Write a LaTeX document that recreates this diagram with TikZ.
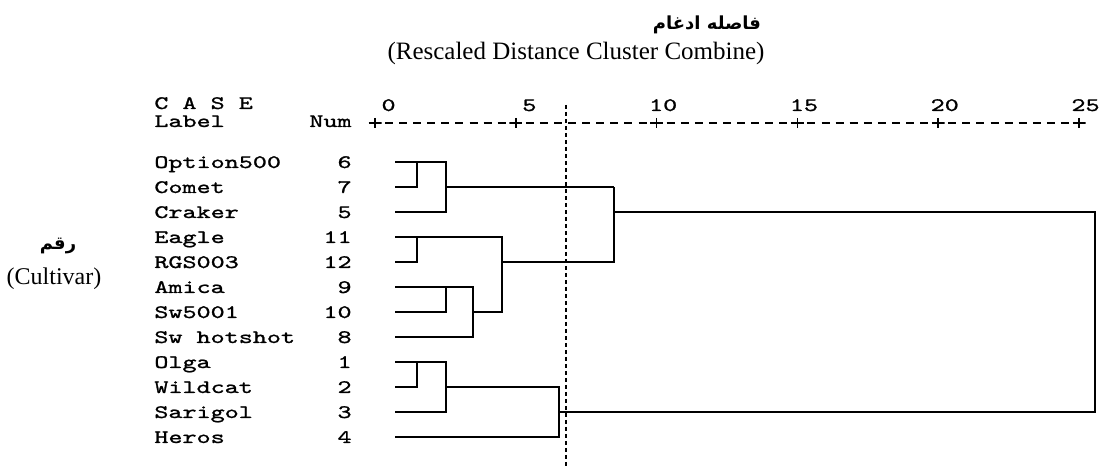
\documentclass[tikz,border=0pt]{standalone}
\usepackage{fontspec}
\setmainfont{Liberation Serif}
\newfontfamily\casefont{lmmono10-regular.otf}[FakeStretch=1.41, FakeBold=1.2]
\newfontfamily\farsifont[Script=Arabic]{DejaVu Sans}
\TeXXeTstate=1

\tikzset{
	casetext/.style={inner sep=0pt, font=\casefont\fontsize{9.5}{11}\selectfont},
	caselabel/.style={casetext, anchor=base west},
	casenum/.style={casetext, anchor=base east},
	scalenum/.style={casetext, anchor=base east},
	tickmark/.style={inner sep=0pt, minimum width=6.5pt, minimum height=5pt,
		path picture={\draw[line width=0.8pt]
			(path picture bounding box.west) -- (path picture bounding box.east)
			(path picture bounding box.north) -- (path picture bounding box.south);}},
	branch/.style={line width=0.85pt},
	cutline/.style={line width=1.25pt, dash pattern=on 2pt off 1.5pt},
	axisline/.style={line width=0.8pt, dash pattern=on 4pt off 3.04pt, dash phase=2pt},
	farsi/.style={inner sep=0pt, font=\farsifont\bfseries\fontsize{9}{11}\selectfont},
	caption/.style={inner sep=0pt, font=\fontsize{12}{14}\selectfont}
}

\begin{document}
\begin{tikzpicture}[x=0.5pt, y=-0.5pt]
		\useasboundingbox (0,0) rectangle (1108,469);

		% titles
		\node[farsi] (titlefa) at (707,25) {\beginR فاصله ادغام\endR};
		\node[caption, anchor=base, font=\fontsize{12.5}{14}\selectfont] (titleen) at (576,60) {(Rescaled Distance Cluster Combine)};
		\node[farsi] (cultfa) at (58,246) {\beginR رقم\endR};
		\node[caption, anchor=base] (culten) at (54,285) {(Cultivar)};

		% header
		\node[caselabel] (case) at (154,109) {C A S E};
		\node[caselabel] (label) at (154,127) {Label};
		\node[caselabel] (num) at (309,127) {Num};

		% scale
		\coordinate (t0) at (375,123);
		\coordinate (t5) at (1079,123);
		\draw[axisline] (t0) -- (t5);
		\node[tickmark] (p0) at (375,123) {};
		\node[tickmark] (p1) at (515.8,123) {};
		\node[tickmark] (p2) at (656.6,123) {};
		\node[tickmark] (p3) at (797.4,123) {};
		\node[tickmark] (p4) at (938.2,123) {};
		\node[tickmark] (p5) at (1079,123) {};
		\node[scalenum] (s0) at (396,111) {0};
		\node[scalenum] (s1) at (536.8,111) {5};
		\node[scalenum] (s2) at (677.6,111) {10};
		\node[scalenum] (s3) at (818.4,111) {15};
		\node[scalenum] (s4) at (959.2,111) {20};
		\node[scalenum] (s5) at (1100,111) {25};

		% cut
		\coordinate (cuttop) at (566,105);
		\coordinate (cutbot) at (566,469);
		\draw[cutline] (cuttop) -- (cutbot);

		% cases
		\node[caselabel] (lab6) at (154,168) {Option500};
		\node[casenum] (num6) at (352,168) {6};
		\coordinate (n6) at (395,162);
		\node[caselabel] (lab7) at (154,193) {Comet};
		\node[casenum] (num7) at (352,193) {7};
		\coordinate (n7) at (395,187);
		\node[caselabel] (lab5) at (154,218) {Craker};
		\node[casenum] (num5) at (352,218) {5};
		\coordinate (n5) at (395,212);
		\node[caselabel] (lab11) at (154,243) {Eagle};
		\node[casenum] (num11) at (352,243) {11};
		\coordinate (n11) at (395,237);
		\node[caselabel] (lab12) at (154,268) {RGS003};
		\node[casenum] (num12) at (352,268) {12};
		\coordinate (n12) at (395,262);
		\node[caselabel] (lab9) at (154,293) {Amica};
		\node[casenum] (num9) at (352,293) {9};
		\coordinate (n9) at (395,287);
		\node[caselabel] (lab10) at (154,318) {Sw5001};
		\node[casenum] (num10) at (352,318) {10};
		\coordinate (n10) at (395,312);
		\node[caselabel] (lab8) at (154,343) {Sw hotshot};
		\node[casenum] (num8) at (352,343) {8};
		\coordinate (n8) at (395,337);
		\node[caselabel] (lab1) at (154,368) {Olga};
		\node[casenum] (num1) at (352,368) {1};
		\coordinate (n1) at (395,362);
		\node[caselabel] (lab2) at (154,393) {Wildcat};
		\node[casenum] (num2) at (352,393) {2};
		\coordinate (n2) at (395,387);
		\node[caselabel] (lab3) at (154,418) {Sarigol};
		\node[casenum] (num3) at (352,418) {3};
		\coordinate (n3) at (395,412);
		\node[caselabel] (lab4) at (154,443) {Heros};
		\node[casenum] (num4) at (352,443) {4};
		\coordinate (n4) at (395,437);

		% merge levels
		\coordinate (xa) at (417,150);
		\coordinate (xb) at (446,150);
		\coordinate (xc) at (473,150);
		\coordinate (xd) at (502,150);
		\coordinate (xe) at (559,150);
		\coordinate (xf) at (614,150);
		\coordinate (xg) at (1095,150);

		% tree
		\draw[branch] (n6) -- (n6 -| xb) -- (n5 -| xb) -- (n5);
		\draw[branch] (n7) -| (n6 -| xa);
		\draw[branch] (n7 -| xb) -- (n7 -| xf);

		\draw[branch] (n11) -- (n11 -| xd) -- (n10 -| xd) -- (n10 -| xc);
		\draw[branch] (n12) -| (n11 -| xa);
		\draw[branch] (n9) -- (n9 -| xc) -- (n8 -| xc) -- (n8);
		\draw[branch] (n10) -| (n9 -| xb);
		\draw[branch] (n12 -| xd) -- (n12 -| xf) -- (n7 -| xf);

		\draw[branch] (n1) -- (n1 -| xb) -- (n3 -| xb) -- (n3);
		\draw[branch] (n2) -| (n1 -| xa);
		\draw[branch] (n2 -| xb) -- (n2 -| xe) -- (n4 -| xe) -- (n4);

		\draw[branch] (n5 -| xf) -- (n5 -| xg) -- (n3 -| xg) -- (n3 -| xe);
\end{tikzpicture}
\end{document}
